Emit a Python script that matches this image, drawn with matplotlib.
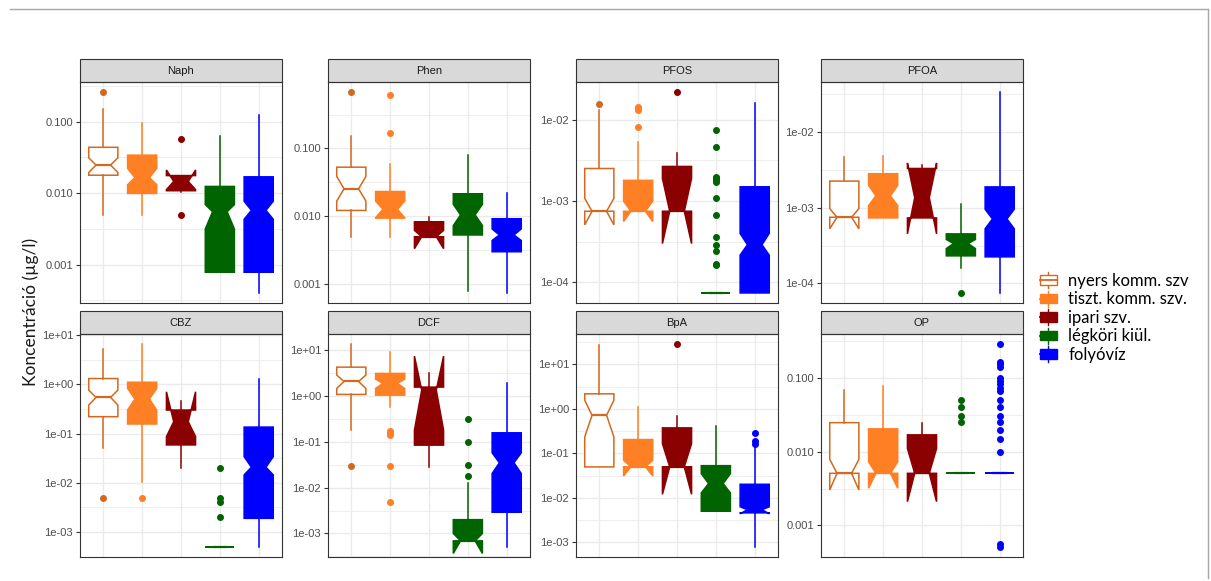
import numpy as np
import matplotlib
matplotlib.use("Agg")
import matplotlib.pyplot as plt
from matplotlib.patches import Patch, Rectangle
from matplotlib.lines import Line2D
from matplotlib.legend_handler import HandlerBase
from matplotlib.ticker import FixedLocator, NullFormatter

plt.rcParams["font.family"] = ["Liberation Sans", "DejaVu Sans"]

# csoportok es szinek
GROUPS = ["nyers komm. szv", "tiszt. komm. szv.", "ipari szv.", "légköri kiül.", "folyóvíz"]
COLORS = ["#D2691E", "#FF7F24", "#8B0000", "#006400", "#0000FF"]
FACETS = ["Naph", "Phen", "PFOS", "PFOA", "CBZ", "DCF", "BpA", "OP"]
TICK_STYLE = ["dec", "dec", "sci", "sci", "sci", "sci", "sci", "dec"]

# boxplot statisztikak csoportonkent: (whislo, q1, cilo, med, cihi, q3, whishi)
NAPH = [(0.005, 0.0178, 0.0194, 0.0247, 0.0312, 0.0438, 0.150),
        (0.005, 0.0099, 0.0131, 0.0165, 0.0222, 0.034, 0.095),
        (0.0105, 0.0108, 0.0112, 0.01456, 0.0211, 0.0176, 0.0176),
        (0.00078, 0.00078, 0.00314, 0.0055, 0.0069, 0.0124, 0.0628),
        (0.0004, 0.00078, 0.0043, 0.00574, 0.0077, 0.0169, 0.125)]
NAPH_OUT = [[0.26], [], [0.0577, 0.005], [], []]

PHEN = [(0.0049, 0.0122, 0.0168, 0.0254, 0.0387, 0.053, 0.155),
        (0.005, 0.0094, 0.0095, 0.0127, 0.0168, 0.0232, 0.0586),
        (0.005, 0.005, 0.00333, 0.005, 0.0062, 0.0083, 0.0096),
        (0.0008, 0.0053, 0.0073, 0.0105, 0.0150, 0.0215, 0.079),
        (0.00074, 0.003, 0.0044, 0.0053, 0.0065, 0.0092, 0.0217)]
PHEN_OUT = [[0.68], [0.61, 0.169], [], [], []]

PFOS = [(0.00075, 0.00075, 0.00051, 0.00075, 0.00108, 0.00252, 0.0132),
        (0.00075, 0.00075, 0.00056, 0.00075, 0.0010, 0.0018, 0.00535),
        (0.00075, 0.00075, 0.0003, 0.00075, 0.0019, 0.00267, 0.0039),
        (7.4e-5, 7.4e-5, 7.4e-5, 7.4e-5, 7.4e-5, 7.4e-5, 7.4e-5),
        (7.4e-5, 7.4e-5, 0.000216, 0.00029, 0.0004, 0.0015, 0.016)]
PFOS_OUT = [[0.0158], [0.0145, 0.0138, 0.0133, 0.0081], [0.022],
            [0.0074, 0.0046, 0.0020, 0.0019, 0.0018, 0.0017, 0.00108,
             0.00068, 0.00036, 0.00029, 0.00024, 0.00017, 0.000162], []]

PFOA = [(0.000745, 0.000745, 0.000525, 0.000745, 0.00097, 0.00223, 0.00459),
        (0.00073, 0.00073, 0.00106, 0.001425, 0.00196, 0.00279, 0.00473),
        (0.00073, 0.00073, 0.00045, 0.00135, 0.00387, 0.00327, 0.00368),
        (0.000161, 0.000231, 0.000288, 0.000335, 0.00038, 0.00045, 0.00111),
        (7.5e-5, 0.000224, 0.000525, 0.000708, 0.00095, 0.00187, 0.0332)]
PFOA_OUT = [[], [], [], [7.5e-5], []]

CBZ = [(0.0505, 0.221, 0.381, 0.545, 0.767, 1.32, 5.2),
       (0.0102, 0.157, 0.302, 0.505, 0.83, 1.11, 6.6),
       (0.0201, 0.059, 0.087, 0.175, 0.71, 0.302, 0.467),
       (0.0005, 0.0005, 0.0005, 0.0005, 0.0005, 0.0005, 0.0005),
       (0.0005, 0.0019, 0.0145, 0.0208, 0.034, 0.136, 1.3)]
CBZ_OUT = [[0.005], [0.005], [], [0.02, 0.005, 0.004, 0.002], []]

DCF = [(0.18, 1.08, 1.46, 2.07, 2.85, 4.25, 13.5),
       (0.56, 1.04, 1.46, 1.87, 2.33, 3.1, 8.9),
       (0.0285, 0.0845, 0.18, 1.34, 7.4, 1.56, 3.15),
       (0.00069, 0.00069, 0.000366, 0.00069, 0.001, 0.002, 0.0127),
       (0.00051, 0.0029, 0.0204, 0.0348, 0.0575, 0.157, 1.94)]
DCF_OUT = [[0.03], [0.171, 0.152, 0.14, 0.03, 0.0049], [], [0.31, 0.097, 0.031, 0.0178], []]

BPA = [(0.0497, 0.0497, 0.235, 0.72, 1.57, 2.19, 27.0),
       (0.05, 0.05, 0.031, 0.05, 0.07, 0.205, 1.08),
       (0.05, 0.05, 0.012, 0.05, 0.166, 0.375, 0.70),
       (0.005, 0.005, 0.0129, 0.021, 0.035, 0.053, 0.416),
       (0.00079, 0.0046, 0.0044, 0.0054, 0.0063, 0.0202, 0.15)]
BPA_OUT = [[], [], [28.7], [], [0.294, 0.19, 0.166]]

OP = [(0.0051, 0.0051, 0.00303, 0.0051, 0.0079, 0.0249, 0.0695),
      (0.0051, 0.0051, 0.0032, 0.0051, 0.0073, 0.0205, 0.0796),
      (0.0051, 0.0051, 0.0021, 0.0051, 0.0111, 0.017, 0.0249),
      (0.0051, 0.0051, 0.0051, 0.0051, 0.0051, 0.0051, 0.0051),
      (0.0051, 0.0051, 0.0051, 0.0051, 0.0051, 0.0051, 0.0051)]
OP_OUT = [[], [], [], [0.051, 0.0406, 0.0303, 0.0252],
          [0.291, 0.164, 0.156, 0.143, 0.101, 0.093, 0.084, 0.074, 0.068, 0.051,
           0.0406, 0.0303, 0.0252, 0.0200, 0.0151, 0.010, 0.00055, 0.00051]]

STATS = [NAPH, PHEN, PFOS, PFOA, CBZ, DCF, BPA, OP]
OUTS = [NAPH_OUT, PHEN_OUT, PFOS_OUT, PFOA_OUT, CBZ_OUT, DCF_OUT, BPA_OUT, OP_OUT]


class BoxKey(HandlerBase):
    # kis boxplot jel a jelmagyarazatban
    def create_artists(self, legend, orig_handle, xdescent, ydescent, width, height, fontsize, trans):
        fc = orig_handle.get_facecolor()
        ec = orig_handle.get_edgecolor()
        x0, y0 = -xdescent, -ydescent
        cx = x0 + width / 2
        whisk = Line2D([cx, cx], [y0 - 0.25 * height, y0 + 1.25 * height], color=ec, lw=1, transform=trans)
        box = Rectangle((x0, y0 + 0.05 * height), width, 0.9 * height, facecolor=fc, edgecolor=ec,
                        lw=1, transform=trans)
        med = Line2D([x0, x0 + width], [y0 + height / 2] * 2, color=ec, lw=1.3, transform=trans)
        return [whisk, box, med]


W, H = 1211, 581
fig = plt.figure(figsize=(W / 100, H / 100), dpi=100)

col_x = [80, 328, 576, 821]
row_y = [(82, 303), (334, 557)]
pw = 202
strip_px = 23

for k, name in enumerate(FACETS):
    r, c = divmod(k, 4)
    top, bot = row_y[r]
    ax = fig.add_axes([col_x[c] / W, 1 - bot / H, pw / W, (bot - top) / H])
    ax.set_yscale("log")
    stats, outs = STATS[k], OUTS[k]

    for i, (s, out) in enumerate(zip(stats, outs)):
        lo, q1, cilo, med, cihi, q3, hi = s
        d = dict(whislo=lo, q1=q1, cilo=cilo, med=med, cihi=cihi, q3=q3, whishi=hi, fliers=out)
        col = COLORS[i]
        face = "white" if i == 0 else col
        ax.bxp([d], positions=[i + 1], widths=0.75, shownotches=True, showcaps=False,
               patch_artist=True, manage_ticks=False,
               boxprops=dict(facecolor=face, edgecolor=col, linewidth=1.1),
               whiskerprops=dict(color=col, linewidth=1.1),
               medianprops=dict(color=col, linewidth=1.6),
               flierprops=dict(marker="o", markerfacecolor=col, markeredgecolor=col,
                               markersize=4, linestyle="none"))

    # y tartomany: adatok + 5% kiterjesztes log skalan
    vals = [v for s in stats for v in (s[0], s[1], s[3], s[5], s[6])] + [v for o in outs for v in o]
    lmin, lmax = np.log10(min(vals)), np.log10(max(vals))
    pad = 0.05 * (lmax - lmin)
    ax.set_ylim(10 ** (lmin - pad), 10 ** (lmax + pad))
    ax.set_xlim(0.4, 5.6)

    lo_e, hi_e = lmin - pad, lmax + pad
    majors = [10.0 ** e for e in range(int(np.ceil(lo_e)), int(np.floor(hi_e)) + 1)]
    minors = [10.0 ** (e + 0.5) for e in range(int(np.floor(lo_e)) - 1, int(np.ceil(hi_e)) + 1)]
    ax.yaxis.set_major_locator(FixedLocator(majors))
    ax.yaxis.set_minor_locator(FixedLocator(minors))
    ax.yaxis.set_minor_formatter(NullFormatter())
    if TICK_STYLE[k] == "dec":
        ax.set_yticklabels([f"{v:.3f}" for v in majors])
    else:
        ax.set_yticklabels([f"{v:.0e}" for v in majors])

    ax.set_xticks([1, 2, 3, 4, 5])
    ax.set_xticklabels([])
    ax.tick_params(axis="x", length=0)
    ax.tick_params(axis="y", which="major", length=3, width=0.8, color="#333333",
                   labelsize=8, labelcolor="#4D4D4D", pad=2)
    ax.tick_params(axis="y", which="minor", length=0)
    ax.set_axisbelow(True)
    ax.grid(True, which="major", color="#EBEBEB", lw=1.0)
    ax.grid(True, which="minor", axis="y", color="#EBEBEB", lw=0.6)
    for sp in ax.spines.values():
        sp.set_color("#333333")
        sp.set_linewidth(0.8)

    sh = strip_px / (bot - top)
    ax.add_patch(Rectangle((0, 1), 1, sh, transform=ax.transAxes, facecolor="#D9D9D9",
                           edgecolor="#333333", lw=0.8, clip_on=False))
    ax.text(0.5, 1 + sh / 2, name, transform=ax.transAxes, ha="center", va="center",
            fontsize=8, color="#1A1A1A")

fig.text(31 / W, 1 - 312 / H, "Koncentráció (µg/l)", rotation=90, ha="center", va="center",
         fontsize=12.5, family="Lato", color="#1A1A1A")

handles = [Patch(facecolor="white" if i == 0 else c, edgecolor=c, label=g)
           for i, (g, c) in enumerate(zip(GROUPS, COLORS))]
fig.legend(handles=handles, loc="center left", bbox_to_anchor=(1040 / W, 1 - 318 / H),
           frameon=False, handler_map={Patch: BoxKey()}, prop={"family": "Lato", "size": 12},
           handlelength=1.0, handleheight=0.6, handletextpad=0.7, labelspacing=0.15,
           borderaxespad=0, borderpad=0)

# keret a kep tetejen es jobb oldalan
fig.add_artist(Line2D([10 / W, 1208 / W], [1 - 9 / H, 1 - 9 / H], color="#A6A6A6", lw=1))
fig.add_artist(Line2D([1208 / W, 1208 / W], [1 - 9 / H, 1 - 578 / H], color="#A6A6A6", lw=1))

fig.savefig("out.png", dpi=100)
